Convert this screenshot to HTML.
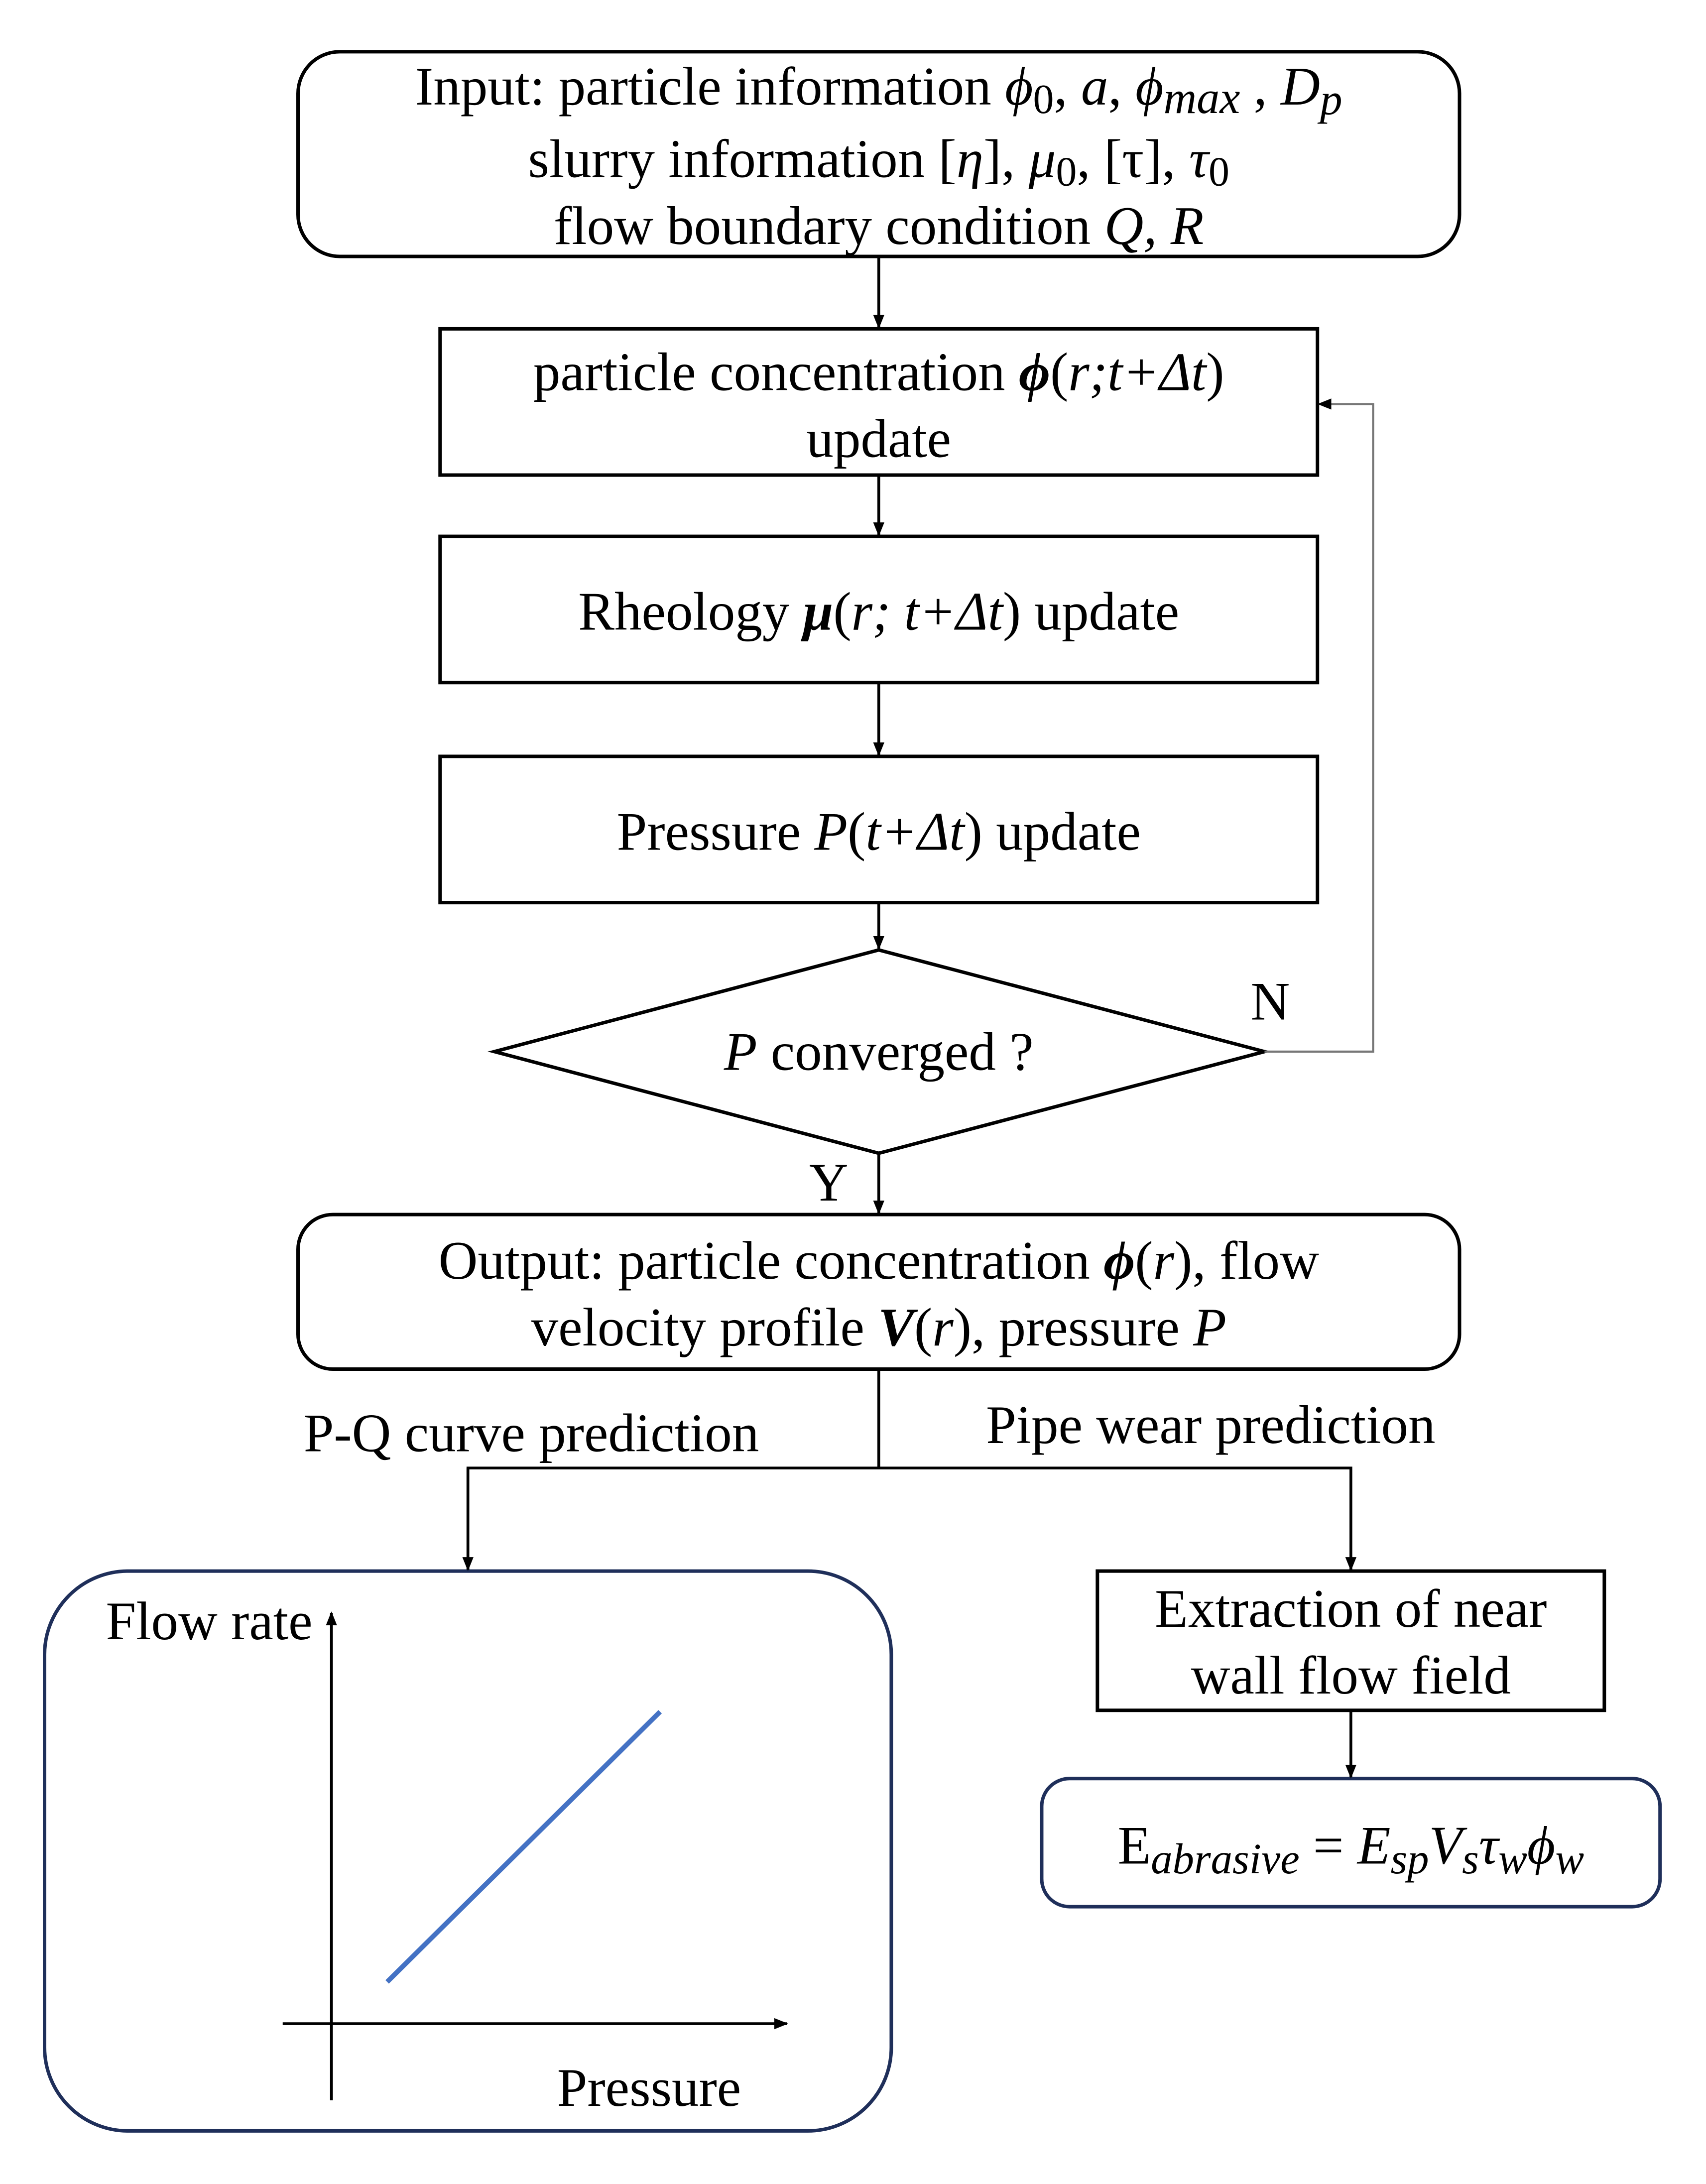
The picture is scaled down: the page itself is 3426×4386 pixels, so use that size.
<!DOCTYPE html>
<html><head><meta charset="utf-8"><style>
html,body{margin:0;padding:0;background:#fff;}
svg{display:block;}
text{font-family:"Liberation Serif",serif;font-size:39px;fill:#000;}
</style></head><body>
<svg width="3426" height="4386" viewBox="0 0 1225 1568" xmlns="http://www.w3.org/2000/svg">
<defs>
<marker id="ah" markerWidth="10" markerHeight="10" refX="9" refY="5" orient="auto" markerUnits="userSpaceOnUse">
<path d="M0,1 L10,5 L0,9 z" fill="#000"/></marker>
</defs>
<g fill="none" stroke="#000" stroke-width="2.5">
<rect x="214" y="37" width="834" height="147" rx="30"/>
<rect x="316" y="236" width="630" height="105"/>
<rect x="316" y="385" width="630" height="105"/>
<rect x="316" y="543" width="630" height="105"/>
<polygon points="631,682 908,755 631,828 355,755"/>
<rect x="214" y="872" width="834" height="111" rx="25"/>
<rect x="788" y="1128" width="364" height="100"/>
</g>
<g fill="none" stroke="#1f2f5a" stroke-width="2.5">
<rect x="32" y="1128" width="608" height="402" rx="60"/>
<rect x="748" y="1277" width="444" height="92" rx="20"/>
</g>
<g fill="none" stroke="#000" stroke-width="2">
<line x1="631" y1="184" x2="631" y2="235" marker-end="url(#ah)"/>
<line x1="631" y1="341" x2="631" y2="384" marker-end="url(#ah)"/>
<line x1="631" y1="490" x2="631" y2="542" marker-end="url(#ah)"/>
<line x1="631" y1="648" x2="631" y2="681" marker-end="url(#ah)"/>
<line x1="631" y1="828" x2="631" y2="871" marker-end="url(#ah)"/>
<line x1="631" y1="983" x2="631" y2="1054"/>
<polyline points="336,1127 336,1054 970,1054 970,1127" marker-end="url(#ah)"/>
<line x1="336" y1="1054" x2="336" y2="1127" marker-end="url(#ah)"/>
<line x1="970" y1="1228" x2="970" y2="1276" marker-end="url(#ah)"/>
<line x1="238" y1="1508" x2="238" y2="1158" marker-end="url(#ah)"/>
<line x1="203" y1="1453" x2="565" y2="1453" marker-end="url(#ah)"/>
</g>
<polyline points="908,755 986,755 986,290 947,290" fill="none" stroke="#777" stroke-width="1.5" marker-end="url(#ah)"/>
<line x1="278" y1="1423" x2="474" y2="1229" stroke="#4472c4" stroke-width="3.5"/>
<g text-anchor="middle">
<text x="631" y="75">Input: particle information <tspan font-style="italic">ϕ</tspan><tspan font-size="30" dy="6">0</tspan><tspan dy="-6">, </tspan><tspan font-style="italic">a</tspan>, <tspan font-style="italic">ϕ</tspan><tspan font-style="italic" font-size="33" dy="6">max</tspan><tspan dy="-6"> , </tspan><tspan font-style="italic">D</tspan><tspan font-style="italic" font-size="32" dy="7">p</tspan></text>
<text x="631" y="127">slurry information [<tspan font-style="italic">η</tspan>], <tspan font-style="italic">μ</tspan><tspan font-size="30" dy="6">0</tspan><tspan dy="-6">, [τ], </tspan><tspan font-style="italic">τ</tspan><tspan font-size="30" dy="6">0</tspan></text>
<text x="631" y="175">flow boundary condition <tspan font-style="italic">Q, R</tspan></text>
<text x="631" y="280">particle concentration <tspan font-weight="bold" font-style="italic">ϕ</tspan>(<tspan font-style="italic">r;t+Δt</tspan>)</text>
<text x="631" y="328">update</text>
<text x="631" y="452">Rheology <tspan font-weight="bold" font-style="italic">μ</tspan>(<tspan font-style="italic">r; t+Δt</tspan>) update</text>
<text x="631" y="610">Pressure <tspan font-style="italic">P</tspan>(<tspan font-style="italic">t+Δt</tspan>) update</text>
<text x="631" y="768"><tspan font-style="italic">P</tspan> converged ?</text>
<text x="631" y="918">Output: particle concentration <tspan font-weight="bold" font-style="italic">ϕ</tspan>(<tspan font-style="italic">r</tspan>), flow</text>
<text x="631" y="966">velocity profile <tspan font-weight="bold" font-style="italic">V</tspan>(<tspan font-style="italic">r</tspan>), pressure <tspan font-style="italic">P</tspan></text>
<text x="970" y="1168">Extraction of near</text>
<text x="970" y="1216">wall flow field</text>
<text x="970" y="1338">E<tspan font-style="italic" font-size="31" dy="7">abrasive</tspan><tspan dy="-7"> = </tspan><tspan font-style="italic">E</tspan><tspan font-style="italic" font-size="31" dy="7">sp</tspan><tspan font-style="italic" dy="-7">V</tspan><tspan font-style="italic" font-size="31" dy="7">s</tspan><tspan font-style="italic" dy="-7">τ</tspan><tspan font-style="italic" font-size="31" dy="7">w</tspan><tspan font-style="italic" dy="-7">ϕ</tspan><tspan font-style="italic" font-size="31" dy="7">w</tspan></text>
</g>
<text x="898" y="732">N</text>
<text x="581" y="862">Y</text>
<text x="218" y="1042">P-Q curve prediction</text>
<text x="708" y="1036">Pipe wear prediction</text>
<text x="76" y="1177">Flow rate</text>
<text x="400" y="1512">Pressure</text>
</svg>
</body></html>
